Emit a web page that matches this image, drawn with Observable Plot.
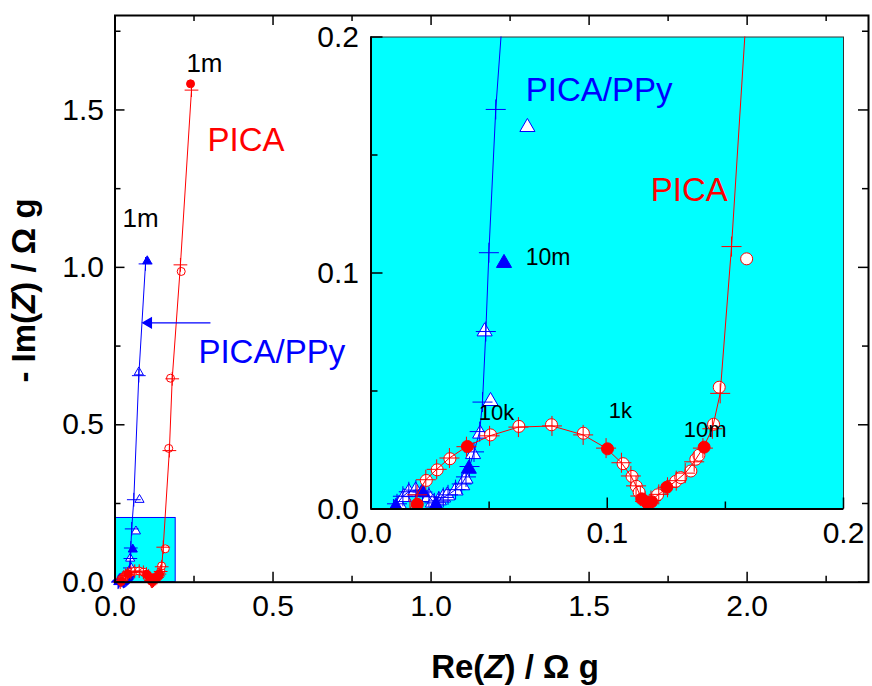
<!DOCTYPE html>
<html><head><meta charset="utf-8">
<script src="https://cdn.jsdelivr.net/npm/d3@7"></script>
<script src="https://cdn.jsdelivr.net/npm/@observablehq/plot@0.6"></script>
<style>
body{margin:0;background:#fff;font-family:"Liberation Sans",Arial,sans-serif;}
#wrap{position:relative;width:872px;height:686px;overflow:hidden;}
#wrap svg{position:absolute;}
.title{position:absolute;font-weight:bold;font-size:33px;line-height:33px;white-space:nowrap;text-align:center;color:#000;}
</style></head><body><div id="wrap"></div>
<script>
// ---- PICA data (circles), Re(Z), -Im(Z) in ohm g ----
const picaX = [0.0196,0.0234,0.0280,0.0334,0.0408,0.0506,0.0626,0.0764,0.0899,0.1001,0.1067,0.1105,0.1123,0.1135,0.1146,0.1168,0.1188,0.1213,0.1252,0.1290,0.1311,0.1354,0.1375,0.1388,0.1410,0.1450,0.1474,0.1590,0.1700,0.1756,0.2095,0.2390];
const picaY = [0.0020,0.0121,0.0166,0.0213,0.0265,0.0314,0.0350,0.0357,0.0321,0.0255,0.0192,0.0138,0.0096,0.0071,0.0043,0.0027,0.0031,0.0060,0.0092,0.0117,0.0133,0.0161,0.0211,0.0228,0.0262,0.0359,0.0516,0.1060,0.4250,0.6480,0.9870,1.5830];
const picaFilled = [1,0,0,0,1,0,0,0,0,1,0,0,0,0,1,1,1,0,1,0,0,0,0,0,1,0,0,0,0,0,0,1];
// ---- PICA fit (line with + markers) ----
const picaFitX = [0.0165,0.0195,0.0232,0.0278,0.0332,0.0404,0.0502,0.0624,0.0766,0.0898,0.0995,0.1060,0.1100,0.1122,0.1140,0.1160,0.1185,0.1218,0.1255,0.1292,0.1330,0.1368,0.1405,0.1445,0.1478,0.1526,0.1720,0.1810,0.2070,0.2420];
const picaFitY = [0.0000,0.0060,0.0124,0.0168,0.0216,0.0264,0.0310,0.0347,0.0352,0.0314,0.0258,0.0196,0.0140,0.0098,0.0055,0.0032,0.0036,0.0062,0.0092,0.0120,0.0152,0.0200,0.0258,0.0340,0.0490,0.1112,0.4180,0.6460,1.0080,1.5630];
// ---- PICA/PPy data (triangles) ----
const ppyX = [0.0105,0.0118,0.0139,0.0160,0.0189,0.0217,0.0245,0.0262,0.0275,0.0287,0.0305,0.0323,0.0358,0.0386,0.0400,0.0414,0.0432,0.0462,0.0506,0.0481,0.0563,0.0662,0.0775,0.0753,0.1020];
const ppyY = [0.0008,0.0020,0.0050,0.0071,0.0078,0.0071,0.0050,0.0027,0.0014,0.0036,0.0048,0.0057,0.0078,0.0100,0.0128,0.0170,0.0232,0.0319,0.0457,0.0752,0.1042,0.1618,0.2620,0.6670,1.0200];
const ppyFilled = [1,0,0,0,0,1,0,0,1,0,0,0,0,0,0,1,0,0,0,0,1,0,0,0,1];
// ---- PICA/PPy fit ----
const ppyFitX = [0.0095,0.0110,0.0135,0.0160,0.0190,0.0218,0.0245,0.0268,0.0287,0.0306,0.0326,0.0358,0.0384,0.0402,0.0417,0.0436,0.0460,0.0472,0.0486,0.0499,0.0528,0.0595,0.0753,0.0965];
const ppyFitY = [0.0000,0.0022,0.0054,0.0073,0.0080,0.0072,0.0052,0.0026,0.0034,0.0049,0.0060,0.0082,0.0106,0.0136,0.0180,0.0242,0.0328,0.0453,0.0752,0.1086,0.1693,0.2620,0.6560,1.0110];
// ---- axes ----
const mainXMajor = [0, 0.5, 1.0, 1.5, 2.0];
const mainXMinor = [0.25, 0.75, 1.25, 1.75, 2.25];
const mainYMajor = [0, 0.5, 1.0, 1.5];
const mainYMinor = [0.25, 0.75, 1.25, 1.75];
const insetMajor = [0, 0.1, 0.2];
const insetMinor = [0.05, 0.15];
const insetRegion = {x2: 0.192, y2: 0.204};
const arrowSpec = {x1: 0.302, y1: 0.824, x2: 0.0965, y2: 0.824};
// ---- annotations ----
const mainNotes = [
  {text:"1m", x:0.283, y:1.647, color:"black", size:26, anchor:"middle"},
  {text:"1m", x:0.081, y:1.154, color:"black", size:26, anchor:"middle"},
  {text:"PICA", x:0.293, y:1.402, color:"red", size:33, anchor:"start"},
  {text:"PICA/PPy", x:0.264, y:0.729, color:"blue", size:33, anchor:"start"}
];
const insetNotes = [
  {text:"PICA/PPy", x:0.0655, y:0.1773, color:"blue", size:33, anchor:"start"},
  {text:"PICA", x:0.1184, y:0.135, color:"red", size:33, anchor:"start"},
  {text:"10m", x:0.0655, y:0.1066, color:"black", size:23, anchor:"start"},
  {text:"10k", x:0.0456, y:0.0405, color:"black", size:22, anchor:"start"},
  {text:"1k", x:0.1006, y:0.0417, color:"black", size:22, anchor:"start"},
  {text:"10m", x:0.1324, y:0.0333, color:"black", size:22, anchor:"start"}
];

const RED = "#ff0000", BLUE = "#0000ff", CYAN = "#00ffff";
const pica = picaX.map((x,i)=>({x, y:picaY[i], f:picaFilled[i]}));
const picaFit = picaFitX.map((x,i)=>({x, y:picaFitY[i]}));
const ppy = ppyX.map((x,i)=>({x, y:ppyY[i], f:ppyFilled[i]}));
const ppyFit = ppyFitX.map((x,i)=>({x, y:ppyFitY[i]}));

function seriesMarks(rc, rt, rp, clip) {
  return [
    Plot.dot(ppy.filter(d=>!d.f), {x:"x", y:"y", symbol:"triangle", r:rt, fill:"white", stroke:BLUE, strokeWidth:1, clip}),
    Plot.dot(ppy.filter(d=>d.f), {x:"x", y:"y", symbol:"triangle", r:rt, fill:BLUE, stroke:BLUE, strokeWidth:1, clip}),
    Plot.line(ppyFit, {x:"x", y:"y", stroke:BLUE, strokeWidth:1, clip}),
    Plot.dot(ppyFit, {x:"x", y:"y", symbol:"plus", r:rp, stroke:BLUE, strokeWidth:1, clip}),
    Plot.dot(pica.filter(d=>!d.f), {x:"x", y:"y", r:rc, fill:"white", stroke:RED, strokeWidth:1, clip}),
    Plot.dot(pica.filter(d=>d.f), {x:"x", y:"y", r:rc, fill:RED, stroke:RED, strokeWidth:1, clip}),
    Plot.line(picaFit, {x:"x", y:"y", stroke:RED, strokeWidth:1, clip}),
    Plot.dot(picaFit, {x:"x", y:"y", symbol:"plus", r:rp, stroke:RED, strokeWidth:1, clip})
  ];
}
function noteMarks(notes) {
  return notes.map(n => Plot.text([n], {x:"x", y:"y", text:"text", fill:n.color, fontSize:n.size, textAnchor:n.anchor, lineAnchor:"middle"}));
}

// ---------- main plot ----------
const W = 872, H = 686;
const mL = 114.5, mR = 4, mT = 15, mB = 104.3;
const innerH = H - mT - mB, innerW = W - mL - mR;
const mainPlot = Plot.plot({
  width: W, height: H,
  marginLeft: mL, marginRight: mR, marginTop: mT, marginBottom: mB,
  style: {fontFamily: "Liberation Sans, Arial, sans-serif", background: "white", overflow: "visible"},
  x: {domain: [0, 2.384]},
  y: {domain: [0, 1.8]},
  marks: [
    Plot.rect([insetRegion], {x1: 0, x2: "x2", y1: 0, y2: "y2", fill: CYAN, stroke: BLUE, strokeWidth: 1}),
    ...seriesMarks(4, 3.4, 4.5, false),
    Plot.link([arrowSpec], {x1:"x1", y1:"y1", x2:"x2", y2:"y2", stroke: BLUE, strokeWidth: 1.3}),
    Plot.dot([arrowSpec], {x:"x2", y:"y2", symbol:"triangle", r:3.6, rotate:-90, dx:3, fill:BLUE, stroke:BLUE}),
    ...noteMarks(mainNotes),
    // ticks inward on all four sides
    Plot.tickX(mainXMajor, {x: d=>d, insetTop: innerH - 10, stroke:"black", strokeWidth: 1.5}),
    Plot.tickX(mainXMinor, {x: d=>d, insetTop: innerH - 6, stroke:"black", strokeWidth: 1.5}),
    Plot.tickX(mainXMajor, {x: d=>d, insetBottom: innerH - 10, stroke:"black", strokeWidth: 1.5}),
    Plot.tickX(mainXMinor, {x: d=>d, insetBottom: innerH - 6, stroke:"black", strokeWidth: 1.5}),
    Plot.tickY(mainYMajor, {y: d=>d, insetRight: innerW - 10, stroke:"black", strokeWidth: 1.5}),
    Plot.tickY(mainYMinor, {y: d=>d, insetRight: innerW - 6, stroke:"black", strokeWidth: 1.5}),
    Plot.tickY(mainYMajor, {y: d=>d, insetLeft: innerW - 10, stroke:"black", strokeWidth: 1.5}),
    Plot.tickY(mainYMinor, {y: d=>d, insetLeft: innerW - 6, stroke:"black", strokeWidth: 1.5}),
    Plot.axisX({ticks: mainXMajor, tickSize: 0, tickPadding: 12, tickFormat: ".1f", fontSize: 30, label: null}),
    Plot.axisY({ticks: mainYMajor, tickSize: 0, tickPadding: 11, tickFormat: ".1f", fontSize: 30, label: null}),
    Plot.frame({stroke: "black", strokeWidth: 2})
  ]
});
mainPlot.style.left = "0px"; mainPlot.style.top = "0px";

// ---------- inset plot ----------
const iLeft = 300, iTop = 20, iW = 572, iH = 540;
const imL = 70.5, imR = 29, imT = 16.5, imB = 51.5;
const iInnerH = iH - imT - imB, iInnerW = iW - imL - imR;
const insetPlot = Plot.plot({
  width: iW, height: iH,
  marginLeft: imL, marginRight: imR, marginTop: imT, marginBottom: imB,
  style: {fontFamily: "Liberation Sans, Arial, sans-serif", background: "transparent", overflow: "visible"},
  x: {domain: [0, 0.2]},
  y: {domain: [0, 0.2]},
  marks: [
    Plot.frame({fill: CYAN, stroke: "#333", strokeWidth: 1}),
    ...seriesMarks(6, 5.6, 6.5, "frame"),
    ...noteMarks(insetNotes),
    Plot.tickX(insetMajor, {x: d=>d, insetTop: iInnerH - 11, stroke:"black", strokeWidth: 1.5}),
    Plot.tickX(insetMinor, {x: d=>d, insetTop: iInnerH - 7, stroke:"black", strokeWidth: 1.5}),
    Plot.tickY(insetMajor, {y: d=>d, insetRight: iInnerW - 12, stroke:"black", strokeWidth: 1.5}),
    Plot.tickY(insetMinor, {y: d=>d, insetRight: iInnerW - 7, stroke:"black", strokeWidth: 1.5}),
    Plot.ruleX([0], {stroke: "black", strokeWidth: 2}),
    Plot.ruleY([0], {stroke: "black", strokeWidth: 2}),
    Plot.axisX({ticks: insetMajor, tickSize: 0, tickPadding: 13, tickFormat: ".1f", fontSize: 30, label: null}),
    Plot.axisY({ticks: insetMajor, tickSize: 0, tickPadding: 12, tickFormat: ".1f", fontSize: 30, label: null})
  ]
});
insetPlot.style.left = iLeft + "px"; insetPlot.style.top = iTop + "px";

const wrap = document.getElementById("wrap");
wrap.appendChild(mainPlot);
wrap.appendChild(insetPlot);

// axis titles
const xt = document.createElement("div");
xt.className = "title";
xt.innerHTML = "Re(<i>Z</i>) / &Omega; g";
xt.style.left = (515 - 200) + "px"; xt.style.width = "400px"; xt.style.top = "650px";
wrap.appendChild(xt);
const yt = document.createElement("div");
yt.className = "title";
yt.innerHTML = "- Im(<i>Z</i>) / &Omega; g";
yt.style.width = "300px"; yt.style.height = "33px";
yt.style.left = (23 - 150) + "px"; yt.style.top = (290 - 16.5) + "px";
yt.style.transform = "rotate(-90deg)";
wrap.appendChild(yt);
</script>
</body></html>
